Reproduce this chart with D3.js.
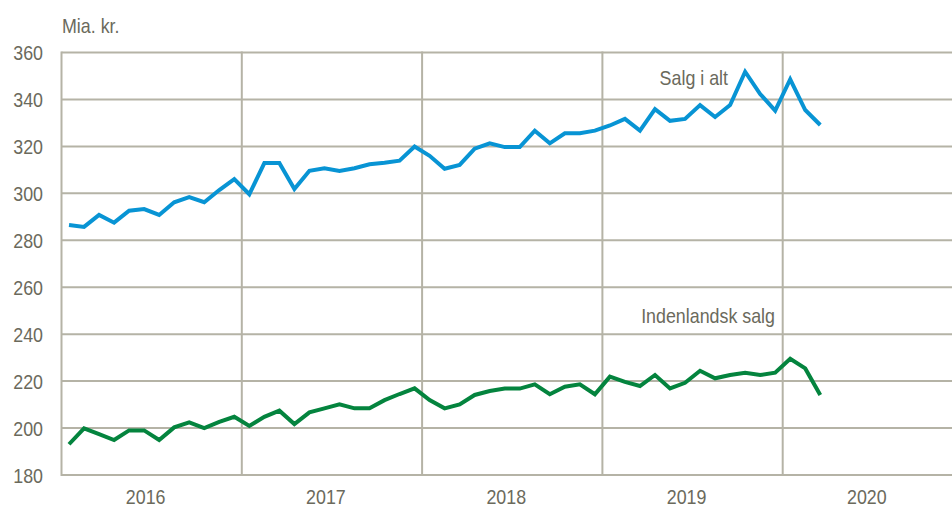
<!DOCTYPE html>
<html lang="da">
  <head>
    <meta charset="UTF-8" />
    <title>Salg i alt og indenlandsk salg</title>
    <script src="https://d3js.org/d3.v7.min.js"></script>
    <style>
      body { margin: 0; background: #fff; }
      svg text { font-family: "Liberation Sans", Arial, sans-serif; font-size: 21px; fill: #6b6a5c; }
    </style>
  </head>
  <body>
    <svg class="chart"></svg>
    <script>
      // monthly, jan 2016 - mar 2020, mia. kr.
      let years = ["2016", "2017", "2018", "2019", "2020"];
      let salgIAlt = [
        286.5, 285.7, 290.8, 287.5, 292.6, 293.3, 290.8, 296.2, 298.4, 296.2, 301.4, 306.1,
        299.6, 312.9, 312.9, 301.8, 309.6, 310.7, 309.5, 310.7, 312.4, 313.0, 313.9, 319.9,
        316.0, 310.5, 312.1, 319.0, 321.3, 319.7, 319.7, 326.7, 321.3, 325.6, 325.6, 326.7,
        328.9, 331.7, 326.7, 335.9, 330.9, 331.7, 337.6, 332.5, 337.6, 351.8, 342.3, 335.2,
        348.6, 335.5, 329.1
      ];
      let indenlandsk = [
        193.1, 199.9, 197.4, 194.9, 199.0, 199.0, 194.9, 200.3, 202.4, 200.0, 202.6, 204.8,
        200.9, 204.8, 207.4, 201.7, 206.7, 208.4, 210.1, 208.4, 208.4, 211.9, 214.5, 216.9,
        211.9, 208.4, 210.1, 214.1, 215.8, 216.8, 216.8, 218.6, 214.4, 217.6, 218.6, 214.4,
        221.9, 219.7, 217.9, 222.6, 216.9, 219.3, 224.4, 221.2, 222.6, 223.6, 222.6, 223.6,
        229.5, 225.4, 214.1
      ];
      let yTicks = [180, 200, 220, 240, 260, 280, 300, 320, 340, 360];

      let width = 952;
      let height = 510;
      let squeeze = 0.85; // narrow font look

      let svg = d3.select(".chart").attr("width", width).attr("height", height);

      // x in months from jan 2016
      let x = d3.scaleLinear().domain([0, 60]).range([61.5, 963]);
      let y = d3.scaleLinear().domain([180, 360]).range([475, 52.5]);

      let grid = "#b5b3a6";

      function place(px, py) {
        return "translate(" + px + "," + py + ") scale(" + squeeze + ",1)";
      }

      // horizontal gridlines
      svg.append("g")
        .selectAll("line")
        .data(yTicks)
        .enter()
        .append("line")
        .attr("x1", x(0))
        .attr("x2", width)
        .attr("y1", d => y(d))
        .attr("y2", d => y(d))
        .style("stroke", grid)
        .style("stroke-width", 2);

      // vertical gridlines at year starts
      svg.append("g")
        .selectAll("line")
        .data(d3.range(0, 61, 12))
        .enter()
        .append("line")
        .attr("x1", d => x(d))
        .attr("x2", d => x(d))
        .attr("y1", y(360) - 1)
        .attr("y2", y(180) + 1)
        .style("stroke", grid)
        .style("stroke-width", 2);

      // y labels
      svg.append("g")
        .selectAll("text")
        .data(yTicks)
        .enter()
        .append("text")
        .attr("transform", d => place(43, y(d)))
        .attr("dy", "0.36em")
        .attr("text-anchor", "end")
        .text(d => d);

      // x labels
      svg.append("g")
        .selectAll("text")
        .data(years)
        .enter()
        .append("text")
        .attr("transform", (d, i) => place(x(i * 12 + 6) - 6, 504))
        .attr("text-anchor", "middle")
        .text(d => d);

      svg.append("text")
        .attr("transform", place(62, 33))
        .text("Mia. kr.");

      let line = d3.line()
        .x((d, i) => x(i + 0.5))
        .y(d => y(d));

      svg.append("path")
        .datum(salgIAlt)
        .attr("d", line)
        .style("fill", "none")
        .style("stroke", "#0894d4")
        .style("stroke-width", 4);

      svg.append("path")
        .datum(indenlandsk)
        .attr("d", line)
        .style("fill", "none")
        .style("stroke", "#04843e")
        .style("stroke-width", 4);

      svg.append("text")
        .attr("transform", place(728, 85))
        .attr("text-anchor", "end")
        .text("Salg i alt");

      svg.append("text")
        .attr("transform", place(775, 323))
        .attr("text-anchor", "end")
        .text("Indenlandsk salg");
    </script>
  </body>
</html>
